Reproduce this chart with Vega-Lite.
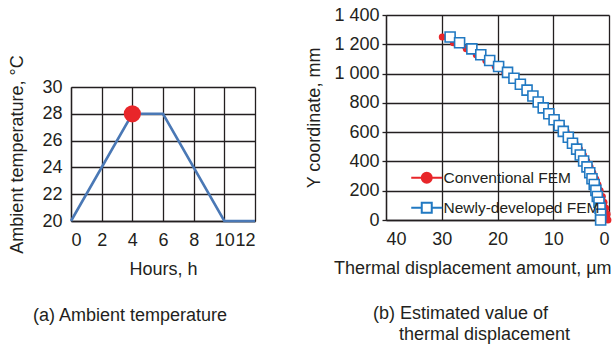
{
  "$schema": "https://vega.github.io/schema/vega-lite/v6.json",
  "background": "white",
  "padding": {"left": 8, "top": 6, "right": 0, "bottom": 0},
  "config": {
    "font": "Liberation Sans",
    "view": {"stroke": null},
    "axis": {
      "labelFont": "Liberation Sans", "titleFont": "Liberation Sans",
      "labelFontSize": 18, "titleFontSize": 18, "labelOverlap": false, "tickCount": 30,
      "labelColor": "#231f20", "titleColor": "#231f20", "titleFontWeight": "normal",
      "gridColor": "#231f20", "gridOpacity": 1, "gridWidth": 1.3,
      "domainColor": "#231f20", "domainWidth": 1.3, "tickColor": "#231f20", "tickWidth": 1.3
    },
    "title": {"font": "Liberation Sans", "fontSize": 18, "fontWeight": "normal", "color": "#231f20"}
  },
  "spacing": 44,
  "resolve": {"scale": {"color": "independent", "shape": "independent", "fill": "independent", "stroke": "independent"}},
  "hconcat": [
    {
      "spacing": 0,
      "vconcat": [
        {
          "width": 184, "height": 39,
          "data": {"values": [{}]},
          "mark": {"type": "point", "opacity": 0},
          "encoding": {}
        },
        {
          "width": 184, "height": 134,
          "title": {"text": "(a) Ambient temperature", "orient": "bottom", "frame": "group", "anchor": "start", "dx": -38, "offset": 29},
          "data": {"values": [
            {"h": 0, "t": 20}, {"h": 4, "t": 28}, {"h": 6, "t": 28}, {"h": 10, "t": 20}, {"h": 12, "t": 20}
          ]},
          "layer": [
            {
              "mark": {"type": "line", "color": "#4a78b5", "strokeWidth": 2.6},
              "encoding": {
                "x": {"field": "h", "type": "quantitative", "scale": {"domain": [0, 12], "nice": false},
                      "axis": {"values": [0, 2, 4, 6, 8, 10, 12], "format": "d", "title": "Hours, h", "grid": true, "tickSize": 0, "labelPadding": 10, "titlePadding": 11}},
                "y": {"field": "t", "type": "quantitative", "scale": {"domain": [20, 30], "nice": false, "zero": false},
                      "axis": {"values": [20, 22, 24, 26, 28, 30], "format": "d", "title": "Ambient temperature, °C", "grid": true, "tickSize": 0, "labelPadding": 9, "titlePadding": 15}}
              }
            },
            {
              "transform": [{"filter": "datum.h == 4"}],
              "mark": {"type": "point", "filled": true, "color": "#e8262a", "size": 295, "opacity": 1},
              "encoding": {
                "x": {"field": "h", "type": "quantitative"},
                "y": {"field": "t", "type": "quantitative"}
              }
            }
          ]
        }
      ]
    },
    {
      "width": 223, "height": 205,
      "title": {"text": ["(b) Estimated value of", "\u2800\u2800thermal displacement"], "orient": "bottom", "frame": "group", "anchor": "start", "align": "left", "dx": -13, "offset": 28, "lineHeight": 21},
      "data": {"values": [
        {"s": "Conventional FEM", "y": 1250, "x": 29.9},
        {"s": "Conventional FEM", "y": 1210, "x": 27.9},
        {"s": "Conventional FEM", "y": 1169, "x": 25.6},
        {"s": "Conventional FEM", "y": 1129, "x": 23.8},
        {"s": "Conventional FEM", "y": 1089, "x": 22.1},
        {"s": "Conventional FEM", "y": 1048, "x": 20.4},
        {"s": "Conventional FEM", "y": 1008, "x": 18.7},
        {"s": "Conventional FEM", "y": 968, "x": 17.3},
        {"s": "Conventional FEM", "y": 927, "x": 16.0},
        {"s": "Conventional FEM", "y": 887, "x": 14.7},
        {"s": "Conventional FEM", "y": 847, "x": 13.5},
        {"s": "Conventional FEM", "y": 806, "x": 12.4},
        {"s": "Conventional FEM", "y": 766, "x": 11.4},
        {"s": "Conventional FEM", "y": 726, "x": 10.4},
        {"s": "Conventional FEM", "y": 685, "x": 9.4},
        {"s": "Conventional FEM", "y": 645, "x": 8.5},
        {"s": "Conventional FEM", "y": 605, "x": 7.7},
        {"s": "Conventional FEM", "y": 565, "x": 6.9},
        {"s": "Conventional FEM", "y": 524, "x": 6.1},
        {"s": "Conventional FEM", "y": 484, "x": 5.3},
        {"s": "Conventional FEM", "y": 444, "x": 4.6},
        {"s": "Conventional FEM", "y": 403, "x": 4.0},
        {"s": "Conventional FEM", "y": 363, "x": 3.4},
        {"s": "Conventional FEM", "y": 323, "x": 2.9},
        {"s": "Conventional FEM", "y": 282, "x": 2.4},
        {"s": "Conventional FEM", "y": 242, "x": 2.0},
        {"s": "Conventional FEM", "y": 202, "x": 1.6},
        {"s": "Conventional FEM", "y": 161, "x": 1.2},
        {"s": "Conventional FEM", "y": 121, "x": 0.9},
        {"s": "Conventional FEM", "y": 81, "x": 0.6},
        {"s": "Conventional FEM", "y": 40, "x": 0.35},
        {"s": "Conventional FEM", "y": 0, "x": 0.2},
        {"s": "Newly-developed FEM", "y": 1250, "x": 28.5},
        {"s": "Newly-developed FEM", "y": 1210, "x": 26.8},
        {"s": "Newly-developed FEM", "y": 1169, "x": 24.6},
        {"s": "Newly-developed FEM", "y": 1129, "x": 23.0},
        {"s": "Newly-developed FEM", "y": 1089, "x": 21.4},
        {"s": "Newly-developed FEM", "y": 1048, "x": 19.8},
        {"s": "Newly-developed FEM", "y": 1008, "x": 18.2},
        {"s": "Newly-developed FEM", "y": 968, "x": 17.05},
        {"s": "Newly-developed FEM", "y": 927, "x": 15.9},
        {"s": "Newly-developed FEM", "y": 887, "x": 14.7},
        {"s": "Newly-developed FEM", "y": 847, "x": 13.65},
        {"s": "Newly-developed FEM", "y": 806, "x": 12.7},
        {"s": "Newly-developed FEM", "y": 766, "x": 11.8},
        {"s": "Newly-developed FEM", "y": 726, "x": 10.8},
        {"s": "Newly-developed FEM", "y": 685, "x": 9.85},
        {"s": "Newly-developed FEM", "y": 645, "x": 8.95},
        {"s": "Newly-developed FEM", "y": 605, "x": 8.2},
        {"s": "Newly-developed FEM", "y": 565, "x": 7.3},
        {"s": "Newly-developed FEM", "y": 524, "x": 6.55},
        {"s": "Newly-developed FEM", "y": 484, "x": 5.8},
        {"s": "Newly-developed FEM", "y": 444, "x": 5.15},
        {"s": "Newly-developed FEM", "y": 403, "x": 4.55},
        {"s": "Newly-developed FEM", "y": 363, "x": 3.95},
        {"s": "Newly-developed FEM", "y": 323, "x": 3.45},
        {"s": "Newly-developed FEM", "y": 282, "x": 3.05},
        {"s": "Newly-developed FEM", "y": 242, "x": 2.65},
        {"s": "Newly-developed FEM", "y": 202, "x": 2.35},
        {"s": "Newly-developed FEM", "y": 161, "x": 2.1},
        {"s": "Newly-developed FEM", "y": 121, "x": 1.8},
        {"s": "Newly-developed FEM", "y": 81, "x": 1.6},
        {"s": "Newly-developed FEM", "y": 40, "x": 1.5},
        {"s": "Newly-developed FEM", "y": 0, "x": 1.5}
      ]},
      "layer": [
        {
          "mark": {"type": "line", "strokeWidth": 2.5},
          "encoding": {
            "x": {"field": "x", "type": "quantitative", "scale": {"domain": [0, 40], "reverse": true, "nice": false},
                  "axis": {"values": [0, 10, 20, 30, 40], "format": "d", "title": "Thermal displacement amount, µm", "grid": true, "tickSize": 0, "labelPadding": 10, "titlePadding": 11, "titleX": 225, "titleAlign": "right"}},
            "y": {"field": "y", "type": "quantitative", "scale": {"domain": [0, 1400], "nice": false},
                  "axis": {"values": [0, 200, 400, 600, 800, 1000, 1200, 1400], "labelExpr": "replace(format(datum.value, ','), ',', ' ')", "title": "Y coordinate, mm", "grid": true, "tickSize": 4, "labelPadding": 3, "titlePadding": 10}},
            "color": {"field": "s", "type": "nominal", "scale": {"range": ["#e8262a", "#2179c2"]}, "legend": null},
            "order": {"field": "y", "type": "quantitative"}
          }
        },
        {
          "transform": [{"filter": "datum.s === 'Conventional FEM'"}],
          "mark": {"type": "point", "shape": "circle", "filled": true, "color": "#e8262a", "size": 50, "opacity": 1},
          "encoding": {
            "x": {"field": "x", "type": "quantitative"},
            "y": {"field": "y", "type": "quantitative"}
          }
        },
        {
          "transform": [{"filter": "datum.s === 'Newly-developed FEM'"}],
          "mark": {"type": "point", "shape": "square", "filled": false, "fill": "white", "stroke": "#2179c2", "strokeWidth": 1.6, "size": 100, "opacity": 1},
          "encoding": {
            "x": {"field": "x", "type": "quantitative"},
            "y": {"field": "y", "type": "quantitative"}
          }
        },
        {
          "transform": [{"filter": "false"}],
          "mark": {"type": "point", "filled": true, "opacity": 1},
          "encoding": {
            "x": {"field": "x", "type": "quantitative"},
            "y": {"field": "y", "type": "quantitative"},
            "shape": {"field": "s", "type": "nominal",
              "scale": {"domain": ["Conventional FEM", "Newly-developed FEM"], "range": ["M-3.1,0H3.1M1,0A1,1,0,1,1,-1,0A1,1,0,1,1,1,0Z", "M-3.1,0H-1M1,0H3.1M-1,-1H1V1H-1Z"]},
              "legend": {
                "orient": "none", "legendX": 33, "legendY": 155, "title": null, "padding": 0,
                "labelFont": "Liberation Sans", "labelFontSize": 15.5, "labelColor": "#231f20",
                "rowPadding": 11, "symbolSize": 100, "symbolStrokeWidth": 2, "symbolOpacity": 1, "labelOffset": 9
              }},
            "fill": {"field": "s", "type": "nominal", "scale": {"domain": ["Conventional FEM", "Newly-developed FEM"], "range": ["#e8262a", "white"]}},
            "stroke": {"field": "s", "type": "nominal", "scale": {"domain": ["Conventional FEM", "Newly-developed FEM"], "range": ["#e8262a", "#2179c2"]}}
          }
        }
      ]
    }
  ]
}
